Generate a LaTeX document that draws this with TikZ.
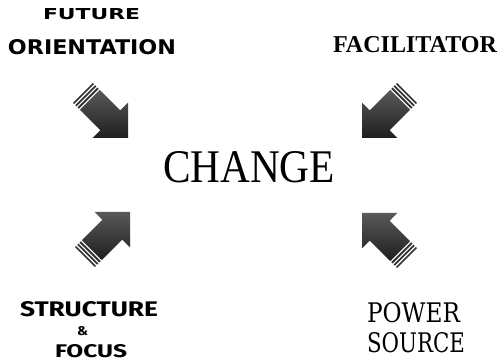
\documentclass[tikz,border=0pt]{standalone}
\usepackage{fontspec}
\usepackage{graphicx}
\setmainfont{Liberation Serif}
\newfontfamily\blockfont{DejaVu Sans}
\newfontfamily\brushfont{Fira Sans}
\newfontfamily\decofont{DejaVu Serif}
\tikzset{
  lbl/.style={anchor=south west, inner sep=0pt, outer sep=0pt},
  arrowbody/.style={top color=black!65, bottom color=black!88, draw=none},
  arrowstripe/.style={fill=black!80, draw=none},
}
\newcommand\fatarrow[2]{%
  \begin{scope}[shift={#1}, rotate=#2]
    \path[arrowbody] (0,0) -- (-25,25) -- (-25,14) -- (-54,14) -- (-54,-14)
      -- (-25,-14) -- (-25,-25) -- cycle;
    \path[arrowstripe] (-55.5,14) rectangle (-57.3,-14);
    \path[arrowstripe] (-58.8,14) rectangle (-60.6,-14);
    \path[arrowstripe] (-62.1,14) rectangle (-63.7,-14);
  \end{scope}}
\begin{document}
\begin{tikzpicture}[x=1pt,y=1pt]
  \useasboundingbox (0,0) rectangle (504,364);
  % labels
  \node[lbl] (future) at (43,344) {\resizebox{97pt}{11pt}{\blockfont\bfseries FUTURE}};
  \node[lbl] (orient) at (8,309) {\resizebox{168pt}{15pt}{\blockfont\bfseries ORIENTATION}};
  \node[lbl] (facil) at (333,311) {\resizebox{164pt}{16pt}{\bfseries FACILITATOR}};
  \node[lbl] (change) at (163,181) {\resizebox{172pt}{31pt}{CHANGE}};
  \node[lbl] (struct) at (20,47) {\resizebox{138pt}{15pt}{\brushfont\bfseries STRUCTURE}};
  \node[lbl] (amp) at (77,28) {\resizebox{11pt}{9pt}{\brushfont\bfseries \&}};
  \node[lbl] (focus) at (55,6) {\resizebox{72pt}{13pt}{\brushfont\bfseries FOCUS}};
  \node[lbl] (power) at (367,41) {\resizebox{93pt}{20pt}{\decofont POWER}};
  \node[lbl] (source) at (367,11) {\resizebox{98pt}{20pt}{\decofont SOURCE}};
  % arrows
  \fatarrow{(128,226)}{-45}
  \fatarrow{(362,226)}{-135}
  \fatarrow{(130,152)}{45}
  \fatarrow{(362,151)}{135}
\end{tikzpicture}
\end{document}
